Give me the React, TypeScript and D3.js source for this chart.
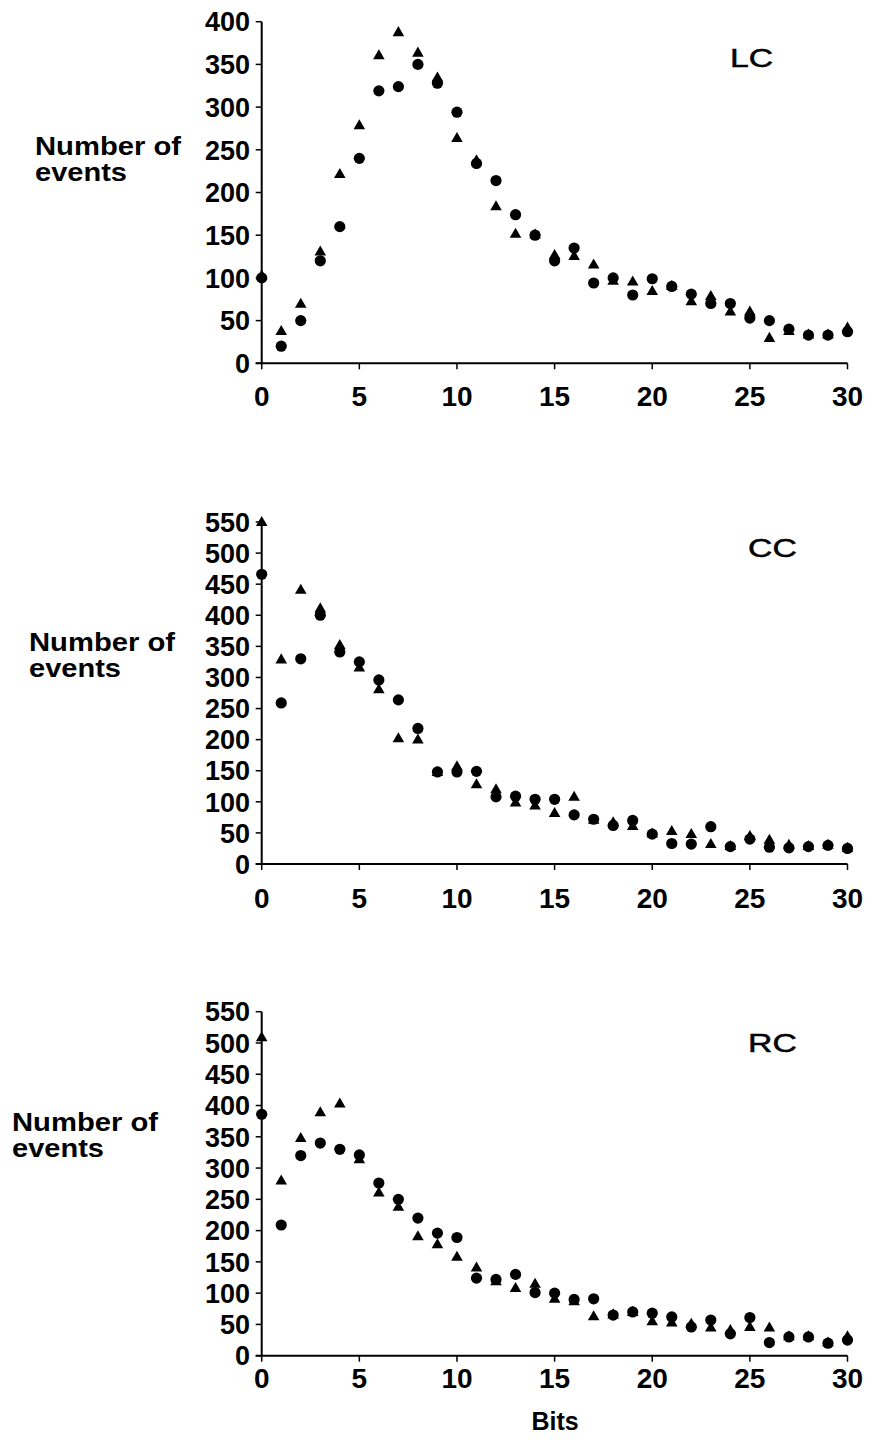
import React from "react";
import * as d3 from "d3";

const bits = d3.range(0, 31);
const xTicks = [0, 5, 10, 15, 20, 25, 30];

const lcTicks = [0, 50, 100, 150, 200, 250, 300, 350, 400];
const ccTicks = [0, 50, 100, 150, 200, 250, 300, 350, 400, 450, 500, 550];
const rcTicks = [0, 50, 100, 150, 200, 250, 300, 350, 400, 450, 500, 550];

const lcCircle = [100, 20, 50, 120, 160, 240, 319, 324, 350, 328, 294, 234, 214, 174, 150, 120, 135, 94, 100, 80, 99, 90, 81, 70, 70, 53, 50, 40, 33, 33, 37];
const lcTriangle = [102, 37, 69, 130, 221, 278, 360, 387, 363, 334, 263, 237, 183, 151, 150, 126, 125, 115, 96, 95, 84, 90, 72, 78, 60, 60, 29, 37, 33, 33, 41];

const ccCircle = [466, 259, 330, 400, 341, 325, 296, 264, 218, 148, 148, 149, 108, 109, 104, 104, 79, 72, 62, 70, 48, 33, 32, 60, 28, 40, 27, 26, 28, 30, 25];
const ccTriangle = [549, 328, 440, 410, 351, 315, 280, 201, 199, 147, 156, 127, 119, 98, 93, 81, 107, 70, 66, 60, 48, 52, 47, 31, 28, 44, 38, 30, 28, 30, 25];

const rcCircle = [386, 209, 320, 340, 330, 321, 276, 250, 220, 196, 189, 124, 122, 130, 101, 100, 90, 91, 65, 70, 68, 62, 46, 57, 35, 61, 21, 30, 30, 20, 25];
const rcTriangle = [508, 279, 347, 388, 402, 313, 260, 237, 190, 177, 157, 140, 118, 107, 114, 90, 86, 62, 65, 69, 54, 52, 50, 44, 40, 45, 44, 30, 30, 20, 30];

const panels = [
  { title: "LC", circle: lcCircle, triangle: lcTriangle, ticks: lcTicks, yMax: 400, y0: 363.3, yTop: 21.7, labelX: 35, labelY: 155, xLabDy: 43, titleX: 730, titleY: 67 },
  { title: "CC", circle: ccCircle, triangle: ccTriangle, ticks: ccTicks, yMax: 550, y0: 864, yTop: 522, labelX: 29, labelY: 651, xLabDy: 44, titleX: 748, titleY: 557 },
  { title: "RC", circle: rcCircle, triangle: rcTriangle, ticks: rcTicks, yMax: 550, y0: 1355.7, yTop: 1011.7, labelX: 12, labelY: 1131, xLabDy: 32, titleX: 748, titleY: 1052 },
];

const FONT = "'Liberation Sans', Arial, Helvetica, sans-serif";
const x = d3.scaleLinear().domain([0, 30]).range([261.7, 847.5]);
const tri = d3.symbol().type(d3.symbolTriangle).size(58)() as string;

function Panel({ p }: { p: typeof panels[number] }) {
  const y = d3.scaleLinear().domain([0, p.yMax]).range([p.y0, p.yTop]);
  const txt = { fontFamily: FONT, fill: "#000", fontWeight: "bold" } as const;
  return (
    <g>
      <line x1={x(0)} x2={x(0)} y1={y(0)} y2={y(p.yMax)} stroke="#000" strokeWidth={2} />
      <line x1={x(0) - 6} x2={x(30)} y1={y(0)} y2={y(0)} stroke="#000" strokeWidth={2} />
      {p.ticks.map((t) => (
        <g key={"yt" + t}>
          <line x1={x(0) - 6} x2={x(0)} y1={y(t)} y2={y(t)} stroke="#000" strokeWidth={1.5} />
          <text {...txt} x={250} y={y(t)} dy="0.36em" textAnchor="end" fontSize={27}>
            {t}
          </text>
        </g>
      ))}
      {xTicks.map((t) => (
        <g key={"xt" + t}>
          <line x1={x(t)} x2={x(t)} y1={y(0)} y2={y(0) + 6} stroke="#000" strokeWidth={1.5} />
          <text {...txt} x={x(t)} y={y(0) + p.xLabDy} textAnchor="middle" fontSize={28}>
            {t}
          </text>
        </g>
      ))}
      <text {...txt} x={p.labelX} y={p.labelY} fontSize={25} textLength={146} lengthAdjust="spacingAndGlyphs">Number of</text>
      <text {...txt} x={p.labelX} y={p.labelY + 26} fontSize={25} textLength={92} lengthAdjust="spacingAndGlyphs">events</text>
      <text
        fontFamily={FONT}
        fill="#000"
        stroke="#000"
        strokeWidth={0.5}
        fontSize={26}
        transform={`translate(${p.titleX},${p.titleY}) scale(1.3,1)`}
      >
        {p.title}
      </text>
      {bits.map((b) => (
        <circle key={"c" + b} cx={x(b)} cy={y(p.circle[b])} r={5.6} fill="#000" />
      ))}
      {bits.map((b) => (
        <path key={"t" + b} d={tri} transform={`translate(${x(b)},${y(p.triangle[b])})`} fill="#000" />
      ))}
    </g>
  );
}

export default function App() {
  return (
    <svg
      width={876}
      height={1443}
      viewBox="0 0 876 1443"
      style={{ position: "absolute", left: 0, top: 0, background: "#fff" }}
    >
      <rect width={876} height={1443} fill="#fff" />
      {panels.map((p) => (
        <Panel key={p.title} p={p} />
      ))}
      <text x={555} y={1430} textAnchor="middle" fontFamily={FONT} fontSize={25} fontWeight="bold">
        Bits
      </text>
    </svg>
  );
}
